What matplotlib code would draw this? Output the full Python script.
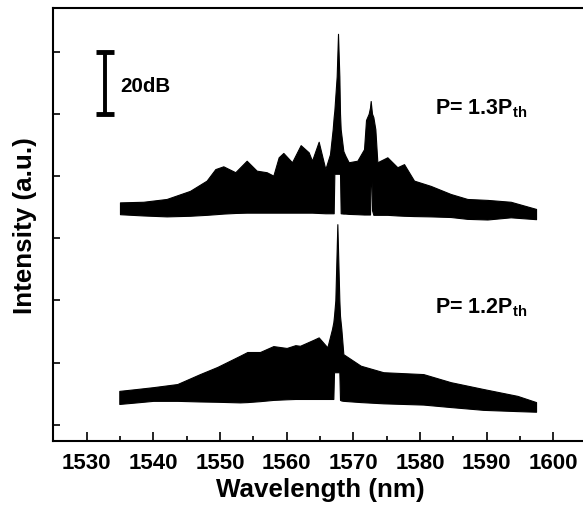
import matplotlib.pyplot as plt

plt.rcParams['font.family'] = ['Liberation Sans', 'DejaVu Sans']
plt.rcParams['font.weight'] = 'bold'
plt.rcParams['mathtext.fontset'] = 'custom'
plt.rcParams['mathtext.rm'] = 'Liberation Sans:bold'
plt.rcParams['mathtext.it'] = 'Liberation Sans:bold'
plt.rcParams['mathtext.bf'] = 'Liberation Sans:bold'

# spectrum envelopes (dB, arbitrary offset)
# P = 1.3 Pth
wl_13 = [1535.0, 1538.5, 1542.0, 1545.5, 1548.0, 1549.3, 1550.5, 1552.3, 1554.0,
         1555.5, 1557.0, 1558.0, 1558.8, 1559.5, 1560.8, 1562.1, 1563.3, 1563.8,
         1564.8, 1565.8, 1566.5, 1566.9, 1567.05, 1567.15, 1567.5, 1567.7, 1567.9,
         1568.0, 1568.1, 1568.5, 1568.8, 1569.3, 1570.6, 1571.6, 1571.9, 1572.3,
         1572.5, 1572.6, 1572.7, 1572.8, 1573.0, 1573.3, 1573.6, 1575.1, 1576.6,
         1577.6, 1579.1, 1581.6, 1584.6, 1587.1, 1590.1, 1593.6, 1597.4]
top_13 = [71.5, 71.7, 72.6, 75.2, 78.5, 82.2, 83.1, 81.2, 84.9,
          81.7, 81.2, 80.1, 86.0, 87.4, 84.4, 89.9, 87.6, 84.9,
          91.0, 82.2, 87.0, 95.0, 99.0, 101.0, 112.0, 125.7, 112.0,
          100.0, 95.0, 88.0, 86.5, 84.4, 84.9, 88.6, 98.0, 100.0,
          102.0, 104.1, 102.0, 100.0, 98.9, 95.0, 84.4, 86.0, 82.8,
          83.8, 78.5, 76.8, 74.2, 72.6, 72.3, 71.7, 69.4]
bot_13 = [67.7, 67.3, 67.0, 67.2, 67.5, 67.7, 67.9, 68.1, 68.2,
          68.2, 68.2, 68.2, 68.2, 68.2, 68.2, 68.2, 68.2, 68.2,
          68.1, 68.0, 68.0, 68.0, 68.0, 80.7, 80.7, 80.7, 80.7,
          80.7, 68.0, 67.9, 67.9, 67.8, 67.7, 67.6, 67.6, 67.6,
          67.6, 81.0, 81.0, 69.0, 67.5, 67.5, 67.5, 67.5, 67.3,
          67.2, 67.1, 67.0, 66.8, 66.2, 66.0, 66.7, 66.1]

# P = 1.2 Pth
wl_12 = [1534.9, 1537.5, 1540.0, 1543.6, 1547.0, 1549.6, 1553.0, 1554.1, 1556.0,
         1558.0, 1560.0, 1561.3, 1562.0, 1564.0, 1564.8, 1566.1, 1566.8, 1567.0,
         1567.1, 1567.3, 1567.6, 1567.9, 1568.0, 1568.2, 1568.5, 1571.1, 1574.5,
         1580.5, 1584.6, 1589.5, 1594.6, 1597.4]
top_12 = [10.9, 11.5, 12.1, 13.1, 16.3, 18.6, 22.2, 23.4, 23.4,
          25.3, 24.7, 25.6, 25.4, 27.3, 28.1, 24.9, 30.8, 33.0,
          35.0, 40.0, 64.5, 40.0, 35.0, 30.8, 22.7, 19.0, 16.9,
          16.3, 13.7, 11.5, 9.3, 7.3]
bot_12 = [6.7, 7.2, 7.7, 7.7, 7.5, 7.4, 7.2, 7.3, 7.6,
          8.0, 8.2, 8.3, 8.3, 8.3, 8.3, 8.3, 8.3, 8.3,
          16.9, 16.9, 16.9, 16.9, 8.0, 7.8, 7.7, 7.3, 6.9,
          6.5, 5.7, 4.8, 4.4, 4.2]

# 20 dB scale bar
bar_wl = 1532.8
bar_lo = 100
bar_hi = 120

xticks = [1530, 1540, 1550, 1560, 1570, 1580, 1590, 1600]
xminor = [1535, 1545, 1555, 1565, 1575, 1585, 1595]
yticks = [0, 20, 40, 60, 80, 100, 120]

fig = plt.figure(figsize=(5.83, 5.10), dpi=100)
ax = fig.add_axes([0.0914, 0.134, 0.915, 0.849])

ax.fill_between(wl_13, bot_13, top_13, color='black', lw=0.8)
ax.fill_between(wl_12, bot_12, top_12, color='black', lw=0.8)

ax.errorbar([bar_wl], [(bar_lo + bar_hi) / 2], yerr=[[(bar_hi - bar_lo) / 2]],
            fmt='none', ecolor='black', elinewidth=2.8, capsize=6.5, capthick=3.5)
ax.text(1535.0, 107.4, '20dB', fontsize=14.8, fontweight='bold', va='baseline')

ax.text(1582.3, 100.2, 'P= 1.3P$_{\\mathrm{th}}$', fontsize=15.5, va='baseline')
ax.text(1582.2, 36.1, 'P= 1.2P$_{\\mathrm{th}}$', fontsize=15.5, va='baseline')

ax.set_xlim(1525, 1605)
ax.set_ylim(-5.1, 134.1)
ax.set_xticks(xticks)
ax.set_xticks(xminor, minor=True)
ax.set_yticks(yticks)
ax.set_yticklabels([])
ax.tick_params(axis='x', which='major', direction='in', length=6.5, width=1.2,
               labelsize=16, pad=8)
ax.tick_params(axis='x', which='minor', direction='in', length=3.5, width=1.2)
ax.tick_params(axis='y', direction='in', length=5, width=1.2)
for lab in ax.get_xticklabels():
    lab.set_fontweight('bold')
for s in ax.spines.values():
    s.set_linewidth(1.5)

ax.set_xlabel('Wavelength (nm)', fontsize=18.7, fontweight='bold', labelpad=3)
ax.set_ylabel('Intensity (a.u.)', fontsize=18.7, fontweight='bold', labelpad=8)

fig.savefig('out.png', dpi=100)
